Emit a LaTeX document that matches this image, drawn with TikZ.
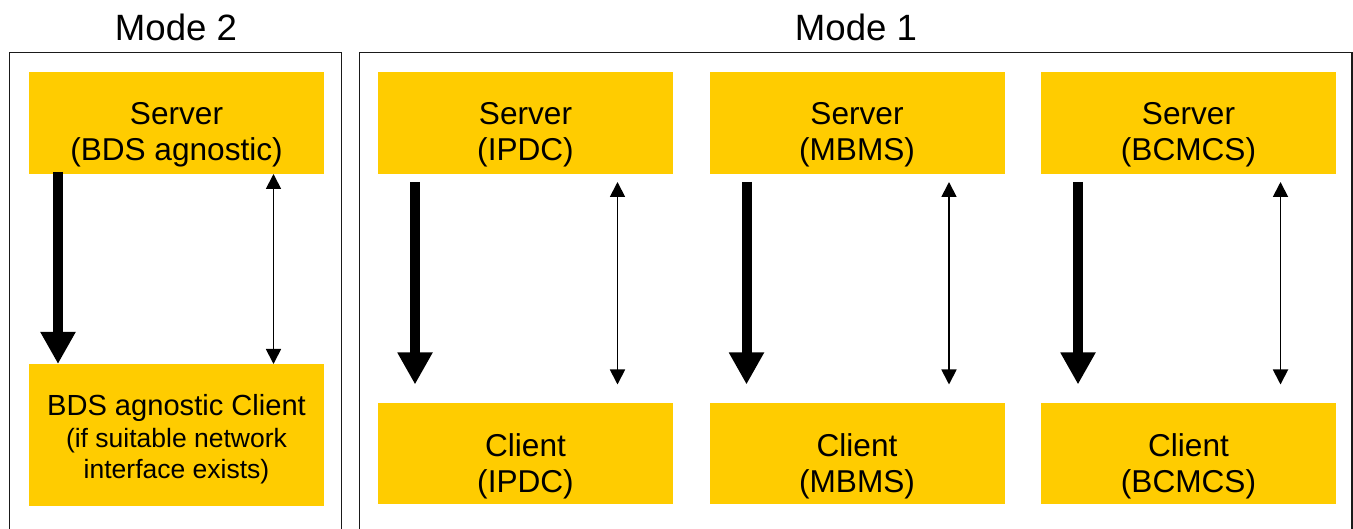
\documentclass[tikz,border=0pt]{standalone}
\usepackage{fontspec}
\setmainfont{Liberation Sans}
\usetikzlibrary{arrows.meta,calc}
\definecolor{boxyellow}{HTML}{FFCC00}
\definecolor{framegray}{HTML}{1A1A1A}
\begin{document}
\begin{tikzpicture}[x=1pt,y=-1pt,
  frame/.style={draw=framegray,line width=1.8pt},
  box/.style={fill=boxyellow,draw=none,minimum width=295pt,inner sep=0pt,anchor=north west,outer sep=0pt},
  lab/.style={anchor=north,inner sep=0pt,align=center,font=\fontsize{31.6}{36}\selectfont},
  title/.style={anchor=base,inner sep=0pt,font=\fontsize{36.6}{44}\selectfont},
  fatarrow/.style={line width=10pt,-{Triangle[width=33pt,length=32pt]}},
  thinarrow/.style={line width=1.8pt,{Triangle[width=15pt,length=15pt]}-{Triangle[width=15pt,length=15pt]}}]
\useasboundingbox (0,0) rectangle (1353,529);
\begin{scope}
\clip (0,0) rectangle (1353,529);
\draw[frame] (9.5,52.5) rectangle (341.5,560);
\draw[frame] (359.5,52.5) rectangle (1352,560);
\end{scope}
\node[title] (m2) at (176,40.7) {Mode 2};
\node[title] (m1) at (856,40.7) {Mode 1};
% Mode 2
\node[box,minimum height=102pt] (s0) at (29,72) {};
\node[box,minimum height=142pt] (c0) at (29,364) {};
\node[lab] (ts0) at ([yshift=-30pt]s0.north) {Server\\(BDS agnostic)};
\node[lab,font=\fontsize{26.5}{30.5}\selectfont] (tc0) at ([yshift=-30.5pt]c0.north)
  {{\fontsize{29.1}{31}\selectfont BDS agnostic Client}\\[1.5pt](if suitable network\\interface exists)};
\draw[fatarrow] ([xshift=-118.5pt,yshift=2pt]s0.south) -- ([xshift=-118.5pt]c0.north);
\draw[thinarrow] ([xshift=97pt]s0.south) -- ([xshift=97pt]c0.north);
% Mode 1
\foreach \i/\x/\n in {1/378/IPDC,2/709.5/MBMS,3/1041/BCMCS}{
  \node[box,minimum height=102pt] (s\i) at (\x,72) {};
  \node[box,minimum height=101pt] (c\i) at (\x,403) {};
  \node[lab] (ts\i) at ([yshift=-30pt]s\i.north) {Server\\(\n)};
  \node[lab] (tc\i) at ([yshift=-30pt]c\i.north) {Client\\(\n)};
  \draw[fatarrow] ([xshift=-110.5pt,yshift=-8pt]s\i.south) -- ([xshift=-110.5pt,yshift=18.5pt]c\i.north);
  \draw[thinarrow] ([xshift=92pt,yshift=-8pt]s\i.south) -- ([xshift=92pt,yshift=18.5pt]c\i.north);
}
\end{tikzpicture}
\end{document}
